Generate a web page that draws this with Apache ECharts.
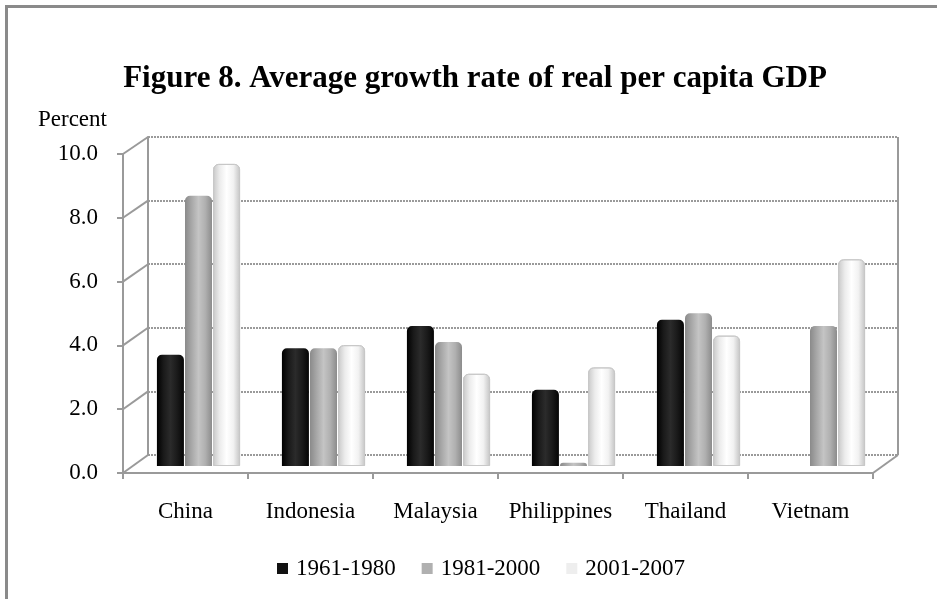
<!DOCTYPE html>
<html><head><meta charset="utf-8">
<script src="https://cdn.jsdelivr.net/npm/echarts@6/dist/echarts.min.js"></script>
<style>
html,body{margin:0;padding:0;background:#fff;}
#wrap{position:absolute;left:0;top:0;width:937px;height:599px;overflow:hidden;}
#frame{position:absolute;left:5px;top:5px;width:940px;height:600px;border-left:3px solid #8a8a8a;border-top:3px solid #8a8a8a;}
#c{position:absolute;left:0;top:0;width:937px;height:599px;}
</style></head>
<body><div id="wrap"><div id="frame"></div><div id="c"></div></div>
<script>
const categories = ['China','Indonesia','Malaysia','Philippines','Thailand','Vietnam'];
const seriesNames = ['1961-1980','1981-2000','2001-2007'];
const s1961 = [3.5, 3.7, 4.4, 2.4, 4.6, null];
const s1981 = [8.5, 3.7, 3.9, 0.1, 4.8, 4.4];
const s2001 = [9.5, 3.8, 2.9, 3.1, 4.1, 6.5];
const yTicks = [0, 2, 4, 6, 8, 10];

const font = '"Liberation Serif","Times New Roman",serif';
const grey = '#9a9a9a';

function grad(stops){
  return {type:'linear',x:0,y:0,x2:1,y2:0,colorStops:stops.map((c,i)=>({offset:i/(stops.length-1),color:c}))};
}
const colBlack = grad(['#000000','#1a1a1a','#2b2b2b','#1a1a1a','#050505']);
const colGray = grad(['#8a8a8a','#a8a8a8','#c4c4c4','#b0b0b0','#8c8c8c']);
const colWhite = grad(['#c8c8c8','#ececec','#ffffff','#f2f2f2','#c4c4c4']);

const chart = echarts.init(document.getElementById('c'), null, {renderer:'canvas'});
const FRONT = {left:123, top:154, width:750, height:319};
const BACK = {left:148, top:137, width:750, height:318};
const MID = {left:136, top:148, width:750, height:318};

const option = {
  animation:false,
  backgroundColor:'transparent',
  title:{text:'Figure 8. Average growth rate of real per capita GDP', left:470, textAlign:'center', top:58,
    textStyle:{fontFamily:font, fontWeight:'bold', fontSize:31, color:'#000'}},
  legend:{data:[
      {name:seriesNames[0], itemStyle:{color:'#111111', borderWidth:0}},
      {name:seriesNames[1], itemStyle:{color:'#b0b0b0', borderWidth:0}},
      {name:seriesNames[2], itemStyle:{color:'#eeeeee', borderWidth:0}}
    ], top:552, left:272, itemWidth:11, itemHeight:11, itemGap:26,
    icon:'rect', textStyle:{fontFamily:font, fontSize:23, color:'#000', padding:[0,0,0,3]}},
  grid:[
    Object.assign({containLabel:false}, FRONT),
    Object.assign({containLabel:false}, BACK),
    Object.assign({containLabel:false}, MID)
  ],
  xAxis:[
    {gridIndex:0, type:'category', data:categories, boundaryGap:true,
      axisLine:{show:true, lineStyle:{color:grey, width:2}},
      axisTick:{show:true, interval:0, length:6, lineStyle:{color:grey, width:2}},
      axisLabel:{interval:0, hideOverlap:false, fontFamily:font, fontSize:23, color:'#000', margin:27}},
    {gridIndex:1, type:'category', data:categories, show:false},
    {gridIndex:2, type:'category', data:categories, show:false}
  ],
  yAxis:[
    {gridIndex:0, type:'value', min:0, max:10, interval:2,
      axisLine:{show:true, lineStyle:{color:grey, width:2}},
      axisTick:{show:true, length:6, lineStyle:{color:grey, width:2}},
      splitLine:{show:false},
      axisLabel:{fontFamily:font, fontSize:23, color:'#000', margin:25, formatter:v=>v.toFixed(1)}},
    {gridIndex:1, type:'value', min:0, max:10, interval:2,
      axisLine:{show:true, lineStyle:{color:grey, width:2}},
      axisTick:{show:false}, axisLabel:{show:false},
      splitLine:{show:true, lineStyle:{color:grey, width:2, type:[2,1]}}},
    {gridIndex:2, type:'value', min:0, max:10, interval:2, show:false, splitLine:{show:false}}
  ],
  series:[
    {name:seriesNames[0], type:'bar', xAxisIndex:2, yAxisIndex:2, data:s1961,
      barWidth:27, barGap:'4%', itemStyle:{color:colBlack, borderRadius:[5,5,0,0]}},
    {name:seriesNames[1], type:'bar', xAxisIndex:2, yAxisIndex:2, data:s1981,
      barWidth:27, barGap:'4%', itemStyle:{color:colGray, borderRadius:[5,5,0,0]}},
    {name:seriesNames[2], type:'bar', xAxisIndex:2, yAxisIndex:2, data:s2001,
      barWidth:27, barGap:'4%', itemStyle:{color:colWhite, borderRadius:[5,5,0,0], borderColor:'#c8c8c8', borderWidth:1}}
  ]
};
chart.setOption(option);

// 3D frame: side wall and floor diagonals, right back edge, unit label
function drawFrame(){
  const g = [];
  const line = (x1,y1,x2,y2)=>g.push({type:'line', silent:true, z:1,
    shape:{x1,y1,x2,y2}, style:{stroke:grey, lineWidth:2}});
  yTicks.forEach(v=>{
    const f = chart.convertToPixel({gridIndex:0}, [0, v]);
    const b = chart.convertToPixel({gridIndex:1}, [0, v]);
    line(FRONT.left, f[1], BACK.left, b[1]);
  });
  const fr = FRONT.left + FRONT.width, br = BACK.left + BACK.width;
  const f0 = chart.convertToPixel({gridIndex:0}, [0, 0])[1];
  const b0 = chart.convertToPixel({gridIndex:1}, [0, 0])[1];
  const b10 = chart.convertToPixel({gridIndex:1}, [0, 10])[1];
  line(fr, f0, br, b0);
  line(br, b10, br, b0);
  g.push({type:'text', left:38, top:108, silent:true,
    style:{text:'Percent', font:'23px "Liberation Serif","Times New Roman",serif', fill:'#000'}});
  chart.setOption({graphic:g});
}
drawFrame();
</script></body></html>
